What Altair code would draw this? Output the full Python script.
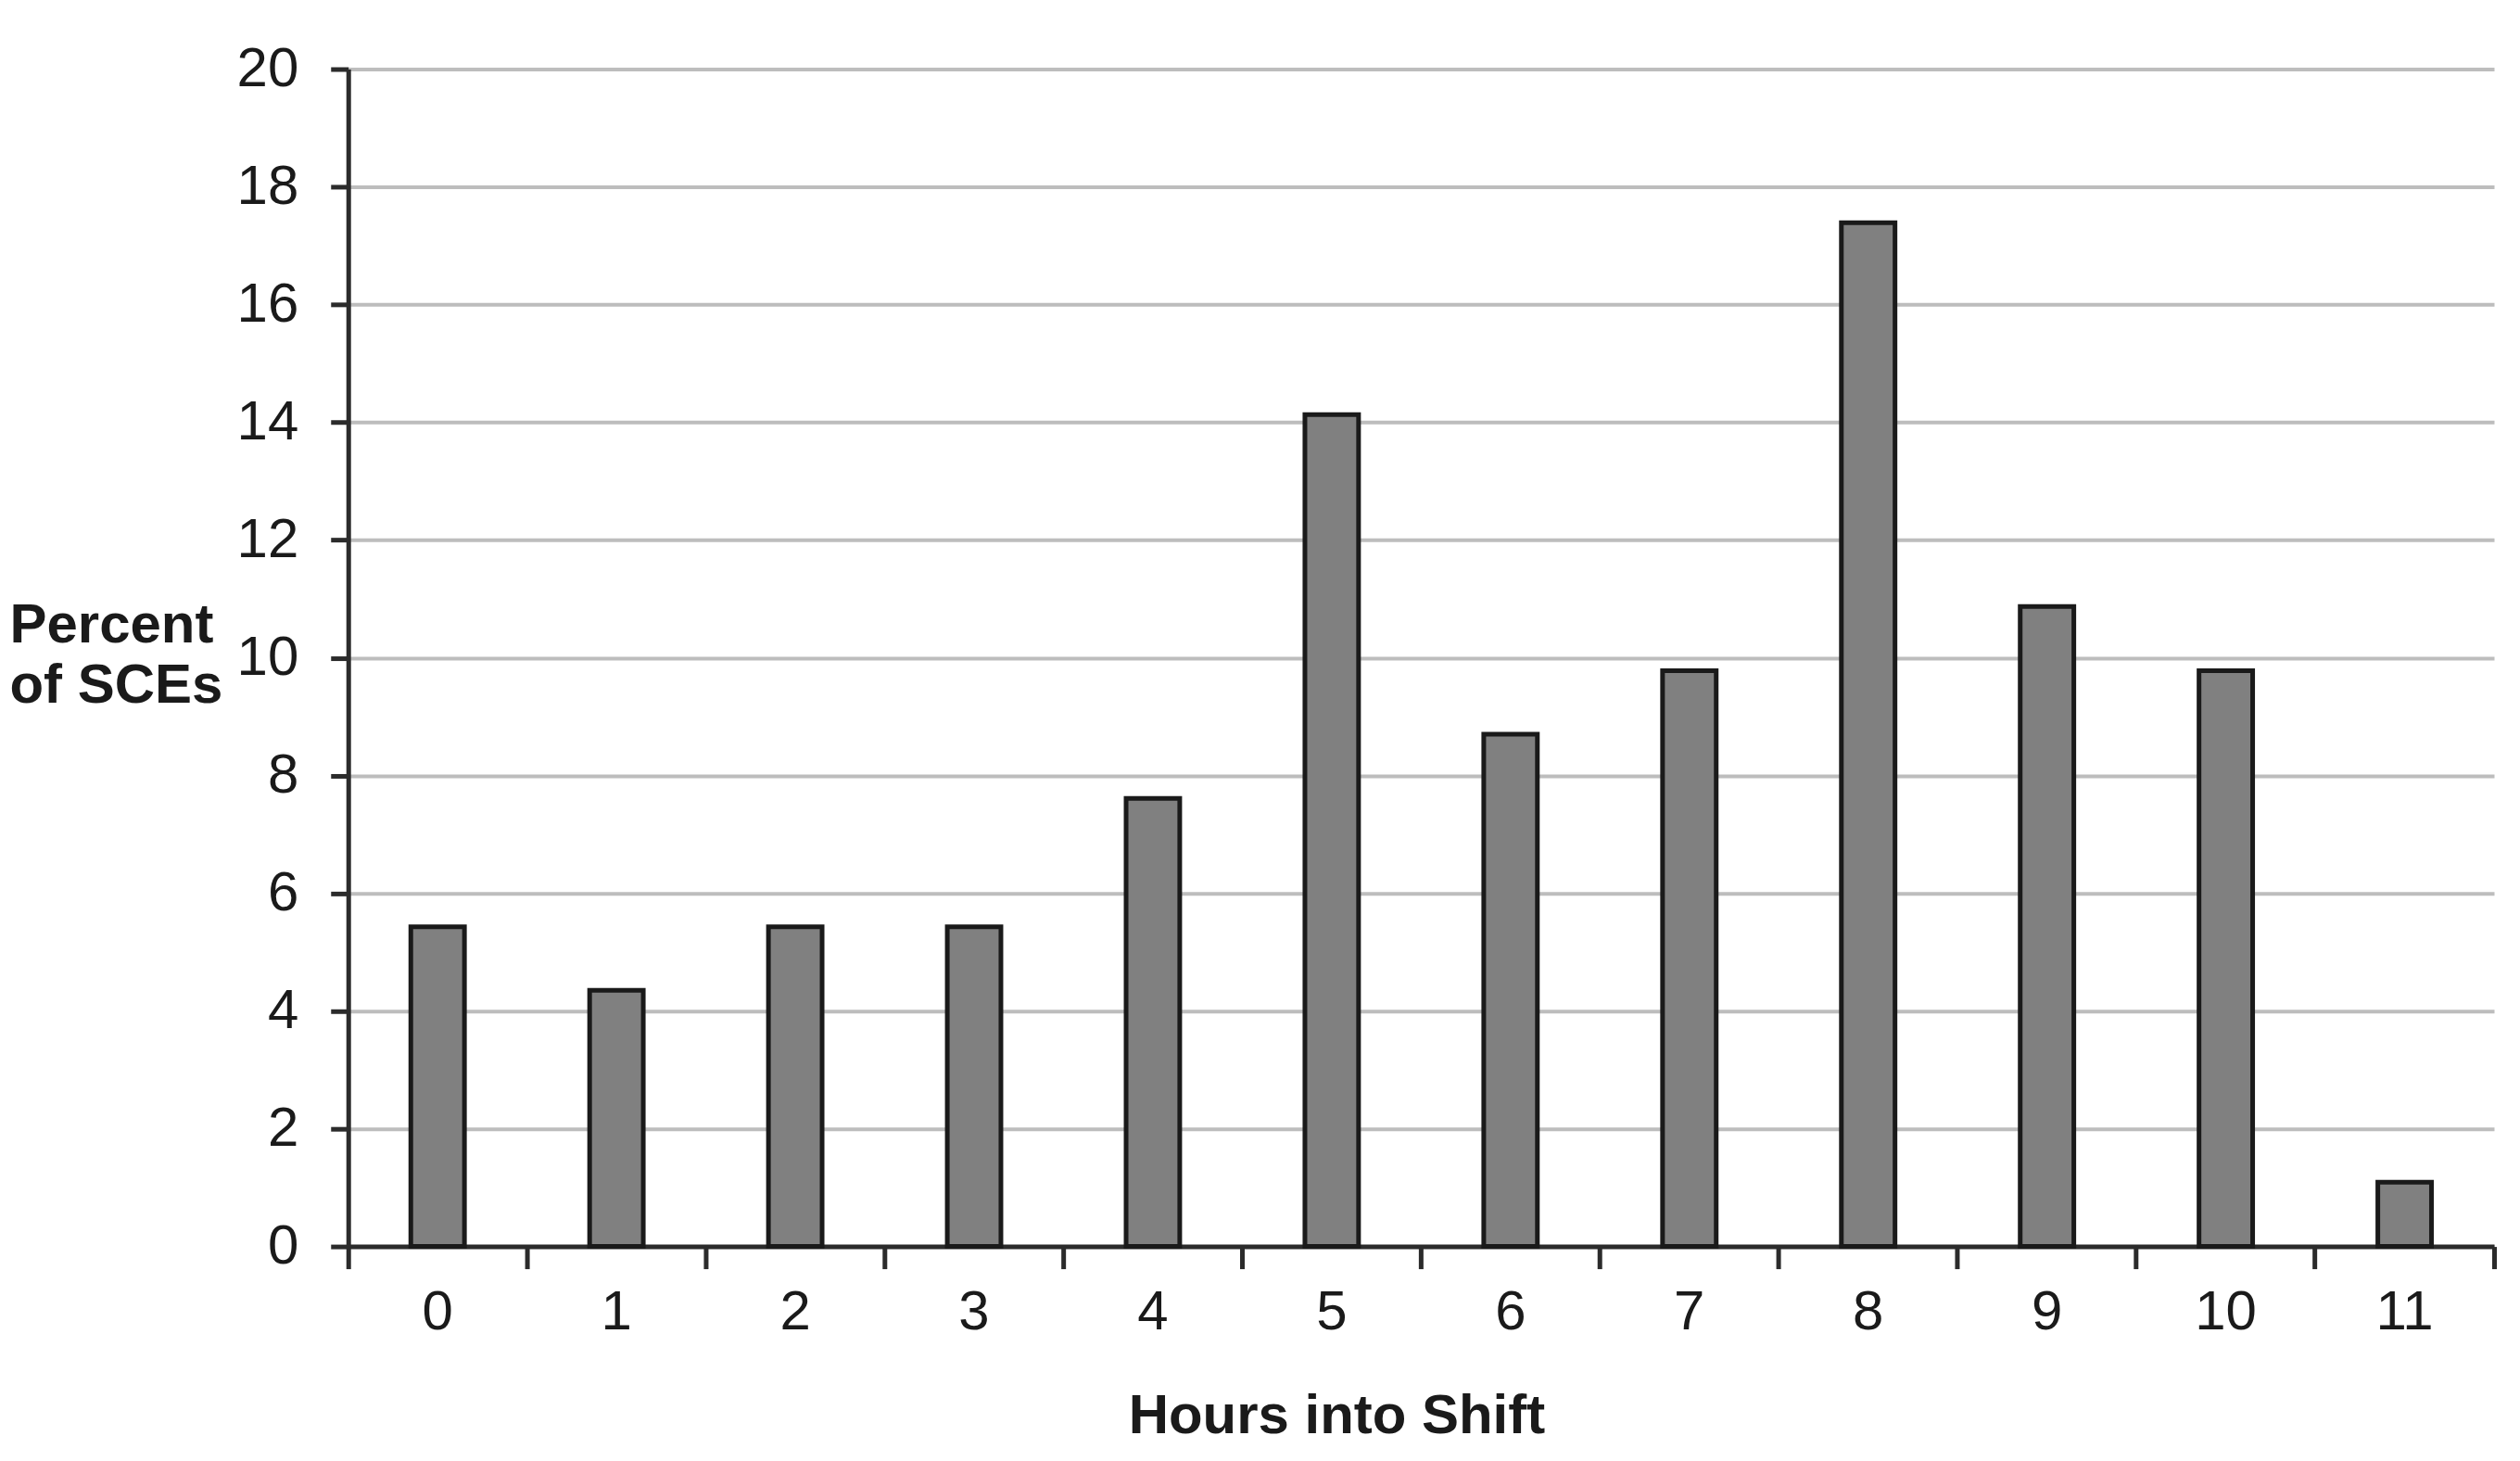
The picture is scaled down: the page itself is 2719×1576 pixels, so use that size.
import altair as alt
import pandas as pd

# Data
hours = ["0", "1", "2", "3", "4", "5", "6", "7", "8", "9", "10", "11"]
percent = [5.43, 4.35, 5.43, 5.43, 7.61, 14.13, 8.70, 9.78, 17.39, 10.87, 9.78, 1.09]
y_ticks = [0, 2, 4, 6, 8, 10, 12, 14, 16, 18, 20]

df = pd.DataFrame({"hour": hours, "percent": percent})

W, H = 2317, 1271
FONT = "Liberation Sans"
TEXT = "#1a1a1a"
AXIS = "#2b2b2b"

x_axis = alt.Axis(
    title="Hours into Shift",
    bandPosition=1,
    tickExtra=True,
    labelAngle=0,
    labelFont=FONT,
    labelFontSize=60,
    labelColor=TEXT,
    labelPadding=18,
    tickSize=24,
    tickWidth=5,
    tickColor=AXIS,
    domainWidth=5,
    domainColor=AXIS,
    grid=False,
    titleFont=FONT,
    titleFontSize=60,
    titleFontWeight="bold",
    titleColor=TEXT,
    titleX=1067,
    titleY=201,
    titleAlign="center",
    titleBaseline="alphabetic",
)

y_axis = alt.Axis(
    title=["Percent", "of SCEs"],
    values=y_ticks,
    titleAngle=0,
    titleX=-366,
    titleY=618,
    titleAlign="left",
    titleBaseline="alphabetic",
    titleLineHeight=65,
    titleFont=FONT,
    titleFontSize=60,
    titleFontWeight="bold",
    titleColor=TEXT,
    labelFont=FONT,
    labelFontSize=60,
    labelColor=TEXT,
    labelPadding=35,
    tickSize=19,
    tickWidth=5,
    tickColor=AXIS,
    domainWidth=5,
    domainColor=AXIS,
    grid=True,
    gridColor="#bdbdbd",
    gridWidth=4,
)

chart = (
    alt.Chart(df)
    .mark_bar(
        width=alt.RelativeBandSize(0.3),
        fill="#808080",
        stroke="#1a1a1a",
        strokeWidth=5,
    )
    .encode(
        x=alt.X("hour:N", sort=hours, axis=x_axis,
                scale=alt.Scale(paddingInner=0, paddingOuter=0)),
        y=alt.Y("percent:Q", axis=y_axis,
                scale=alt.Scale(domain=[0, 20], nice=False)),
    )
    .properties(
        width=W,
        height=H,
        autosize=alt.AutoSizeParams(type="none"),
        padding={"left": 368, "top": 66, "right": 20, "bottom": 222},
        background="white",
    )
    .configure_view(stroke=None)
)

chart.save("out.html", embed_options={"renderer": "svg", "actions": False})
